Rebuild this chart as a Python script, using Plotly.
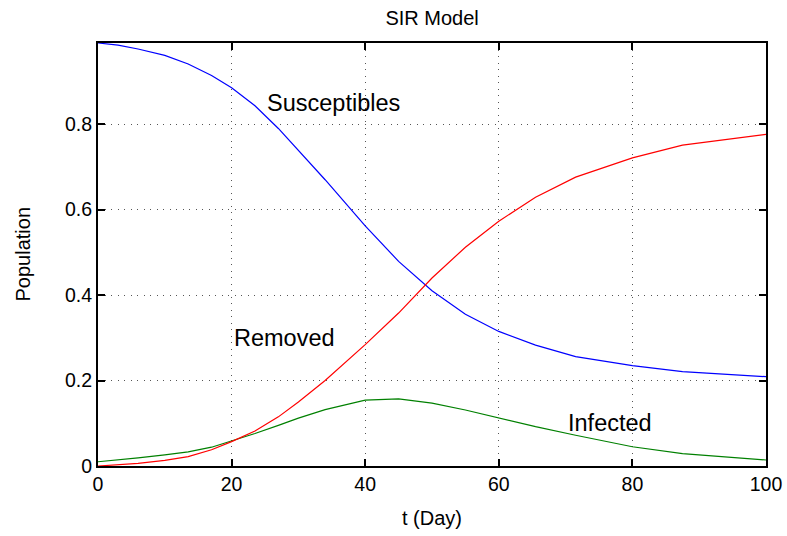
import plotly.graph_objects as go

t_days = [0, 3, 6, 10, 13.5, 17, 20, 23.5, 27, 30, 34, 40, 45, 50, 55, 60, 65.5, 71.5, 80, 87.5, 100]
susceptibles = [0.99, 0.985, 0.976, 0.961, 0.941, 0.914, 0.885, 0.843, 0.79, 0.738, 0.670, 0.562, 0.479,
                0.41, 0.355, 0.315, 0.283, 0.256, 0.235, 0.221, 0.209]
infected = [0.01, 0.014, 0.019, 0.026, 0.033, 0.044, 0.058, 0.076, 0.095, 0.112, 0.132, 0.154, 0.157,
            0.147, 0.131, 0.112, 0.092, 0.072, 0.045, 0.029, 0.014]
removed = [0.0, 0.003, 0.006, 0.013, 0.022, 0.038, 0.057, 0.082, 0.115, 0.150, 0.20, 0.284, 0.358,
           0.44, 0.512, 0.573, 0.629, 0.676, 0.721, 0.751, 0.776]

x_ticks = [0, 20, 40, 60, 80, 100]
y_ticks = [0, 0.2, 0.4, 0.6, 0.8]
y_tick_text = ["0", "0.2", "0.4", "0.6", "0.8"]

labels = [("Susceptibles", 25, 0.85), ("Removed", 20, 0.3), ("Infected", 70, 0.1)]

NARROW = "Liberation Sans Narrow, Arial Narrow, Liberation Sans, Arial, sans-serif"
SANS = "Liberation Sans, Arial, sans-serif"

fig = go.Figure()
fig.add_trace(go.Scatter(x=t_days, y=susceptibles, mode="lines", line=dict(color="#0000ff", width=1.2)))
fig.add_trace(go.Scatter(x=t_days, y=infected, mode="lines", line=dict(color="#008000", width=1.2)))
fig.add_trace(go.Scatter(x=t_days, y=removed, mode="lines", line=dict(color="#ff0000", width=1.2)))

for txt, xx, yy in labels:
    fig.add_annotation(x=xx, y=yy, xref="x", yref="y", text=txt, showarrow=False,
                       xanchor="left", yanchor="middle", font=dict(family=SANS, size=23.5, color="black"))

fig.add_annotation(x=0.5, y=0, xref="paper", yref="paper", yshift=-52, text="t (Day)", showarrow=False,
                   xanchor="center", yanchor="middle", font=dict(family=NARROW, size=20, color="black"))
fig.add_annotation(x=0, y=0.5, xref="paper", yref="paper", xshift=-76, text="Population", showarrow=False,
                   textangle=-90, xanchor="center", yanchor="middle",
                   font=dict(family=NARROW, size=20, color="black"))

axis_common = dict(showline=True, linecolor="black", linewidth=2, mirror="ticks", ticks="inside",
                   ticklen=7, tickwidth=2, tickcolor="black", showgrid=True, gridcolor="#555555",
                   griddash="1px,5.5px", gridwidth=1.2, zeroline=False, automargin=False,
                   tickfont=dict(family=NARROW, size=19.5, color="black"))

fig.update_xaxes(range=[0, 100], tickvals=x_ticks, ticktext=[str(v) for v in x_ticks], **axis_common)
fig.update_yaxes(range=[0, 0.99], tickvals=y_ticks, ticktext=y_tick_text, **axis_common)

fig.update_layout(
    width=787, height=536,
    margin=dict(l=98, r=21, t=43, b=70),
    paper_bgcolor="white", plot_bgcolor="white",
    showlegend=False,
    title=dict(text="SIR Model", x=0.549, xanchor="center", y=1 - 18 / 536, yanchor="middle",
               yref="container", automargin=False, font=dict(family=NARROW, size=20, color="black")),
)

fig.write_html("out.html", config={"displayModeBar": False},
               post_script="document.body.style.margin='0';document.body.style.padding='0';"
                           "document.body.style.overflow='hidden';")
